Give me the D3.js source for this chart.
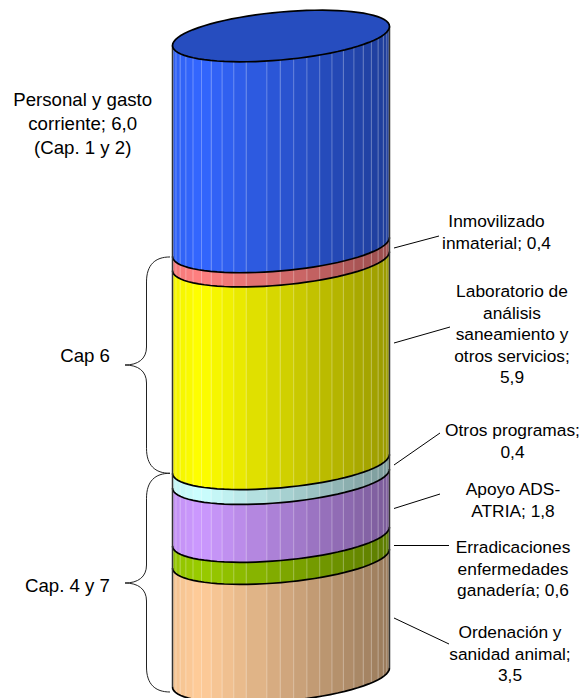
<!DOCTYPE html>
<html>
<head>
<meta charset="utf-8">
<script src="https://cdn.jsdelivr.net/npm/d3@7"></script>
<style>
  html, body { margin: 0; padding: 0; background: #fff; }
  svg { display: block; }
  text { font-family: "Liberation Sans", Arial, sans-serif; font-size: 17.33px; fill: #000; }
  .big { font-size: 18.67px; }
</style>
</head>
<body>
<div id="chart"></div>
<script>
// segment values, top to bottom (heights)
const categories = ['Personal y gasto corriente', 'Inmovilizado inmaterial', 'Laboratorio', 'Otros programas', 'Apoyo ADS-ATRIA', 'Erradicaciones', 'Ordenación'];
const values = [6.12, 0.41, 5.88, 0.43, 1.68, 0.64, 3.45];
const colors = ['#3366ff', '#ff8080', '#ffff00', '#ccffff', '#cc99ff', '#99cc00', '#ffcc99'];

// text of the labels
const labelLines = [
  ['Personal y gasto', 'corriente; 6,0', '(Cap. 1 y 2)'],
  ['Inmovilizado', 'inmaterial; 0,4'],
  ['Laboratorio de', 'análisis', 'saneamiento y', 'otros servicios;', '5,9'],
  ['Otros programas;', '0,4'],
  ['Apoyo ADS-', 'ATRIA; 1,8'],
  ['Erradicaciones', 'enfermedades', 'ganadería; 0,6'],
  ['Ordenación y', 'sanidad animal;', '3,5']
];
const braceNames = ['Cap 6', 'Cap. 4 y 7'];

// layout of the annotations, same order as labelLines
const labelX = [82.7, 496.5, 512, 512.5, 513, 513, 510];
const labelY = [106, 227, 297, 436, 495, 553, 638];
const leaders = [null, [394, 248, 439, 236], [394, 343, 450, 327], [394, 465, 440, 433], [394, 508.5, 440, 494], [394, 545.5, 449, 545.5], [394, 618, 449, 644]];

const width = 580, height = 698;
const lineH = 21.5, lineHBig = 24;
const cxL = 172.5, cxR = 389.5;
const skew = -9.5, depth = 24;

const svg = d3.select('#chart').append('svg').attr('width', width).attr('height', height);

const total = d3.sum(values);
const y = d3.scaleLinear().domain([0, total]).range([36, 677.5]);
const x = d3.scaleLinear().domain([-1, 1]).range([cxL, cxR]);
const shade = d3.scaleLinear().domain([172, 200, 389]).range([0.95, 1, 0.6]);

const cum = [0];
values.forEach(v => cum.push(cum[cum.length - 1] + v));

/* punto de la elipse inclinada */
function pt(c, t) {
  return [x(Math.cos(t)), c + skew * Math.cos(t) + depth * Math.sin(t)];
}
function arc(c, t0, t1) {
  return d3.range(41).map(i => pt(c, t0 + (t1 - t0) * i / 40));
}
const line = d3.line();

// facet edges as cos of the angle, left to right
const leftDeg = d3.range(10).map(i => 71.3 - 7.1 * i).filter(d => d > 0).reverse();
const rightDeg = d3.range(12).map(i => 82.5 + 7.1 * i).concat([167, 173]);
const edges = [cxL].concat(leftDeg.concat(rightDeg).map(d => x(-Math.cos(d * Math.PI / 180)))).concat([cxR]);

const defs = svg.append('defs');

/* bandas */
values.forEach((v, i) => {
  const cTop = y(cum[i]), cBot = y(cum[i + 1]);
  const pts = arc(cBot, Math.PI, 0).concat(arc(cTop, 0, Math.PI));
  const id = 'band' + i;
  defs.append('clipPath').attr('id', id).append('path').attr('d', line(pts) + 'Z');
  const g = svg.append('g').attr('clip-path', `url(#${id})`);
  const base = d3.rgb(colors[i]);
  g.selectAll('rect').data(d3.pairs(edges)).enter().append('rect')
    .attr('x', d => d[0]).attr('width', d => d[1] - d[0] + 0.5)
    .attr('y', cTop - 40).attr('height', cBot - cTop + 100)
    .attr('fill', d => {
      const k = shade((d[0] + d[1]) / 2);
      return d3.rgb(base.r * k, base.g * k, base.b * k).formatRgb();
    });
  g.selectAll('line').data(edges.slice(1, -1)).enter().append('line')
    .attr('x1', d => d).attr('x2', d => d)
    .attr('y1', cTop - 40).attr('y2', cBot + 60)
    .attr('stroke', '#fff').attr('stroke-opacity', 0.3).attr('stroke-width', 1);
});

/* bordes */
const arcsG = svg.append('g').attr('fill', 'none').attr('stroke', '#000').attr('stroke-width', 1.7);
cum.slice(1).forEach(c => {
  arcsG.append('path').attr('d', line(arc(y(c), 0, Math.PI)));
});
const topC = y(0), botC = y(total);
svg.append('path')
  .attr('d', line([pt(topC, Math.PI), pt(botC, Math.PI)]))
  .attr('stroke', '#333').attr('stroke-width', 1.5);
svg.append('path')
  .attr('d', line([pt(topC, 0), pt(botC, 0)]))
  .attr('stroke', '#333').attr('stroke-width', 1.5);

/* tapa */
const capBase = d3.rgb(colors[0]);
svg.append('path')
  .attr('d', line(d3.range(81).map(i => pt(topC, i / 80 * 2 * Math.PI))) + 'Z')
  .attr('fill', d3.rgb(capBase.r * 0.75, capBase.g * 0.75, capBase.b * 0.75).formatRgb())
  .attr('stroke', '#000').attr('stroke-width', 1.7);

/* lineas guia */
svg.selectAll('.leader').data(leaders.filter(d => d)).enter().append('line')
  .attr('class', 'leader')
  .attr('x1', d => d[0]).attr('y1', d => d[1]).attr('x2', d => d[2]).attr('y2', d => d[3])
  .attr('stroke', '#000').attr('stroke-width', 1);

/* etiquetas */
labelLines.forEach((lines, i) => {
  const t = svg.append('text').attr('text-anchor', 'middle').classed('big', i === 0);
  lines.forEach((s, j) => {
    t.append('tspan').attr('x', labelX[i]).attr('y', labelY[i] + j * (i === 0 ? lineHBig : lineH)).text(s);
  });
});

/* llaves */
function brace(top, bottom, mid) {
  const xe = 170, xv = 146.5, xt = 125;
  return `M${xe},${top}C${xe - 15},${top} ${xv},${top + 8} ${xv},${top + 25}` +
    `L${xv},${mid - 18}C${xv},${mid - 6} ${xt + 13},${mid} ${xt},${mid}` +
    `C${xt + 13},${mid} ${xv},${mid + 6} ${xv},${mid + 18}` +
    `L${xv},${bottom - 25}C${xv},${bottom - 8} ${xe - 15},${bottom} ${xe},${bottom}`;
}
const leftEdge = c => y(c) + 9.5;
const braces = [
  { top: leftEdge(cum[1]) + 0.5, bottom: leftEdge(cum[3]), mid: 365 },
  { top: leftEdge(cum[3]), bottom: leftEdge(total) + 5, mid: 583 }
];
svg.selectAll('.brace').data(braces).enter().append('path')
  .attr('class', 'brace')
  .attr('d', d => brace(d.top, d.bottom, d.mid))
  .attr('fill', 'none').attr('stroke', '#222').attr('stroke-width', 1);

svg.selectAll('.braceName').data(braceNames).enter().append('text')
  .attr('class', 'braceName big')
  .attr('text-anchor', 'end')
  .attr('x', 110)
  .attr('y', (d, i) => i === 0 ? 362 : 592)
  .text(d => d);
</script>
</body>
</html>
